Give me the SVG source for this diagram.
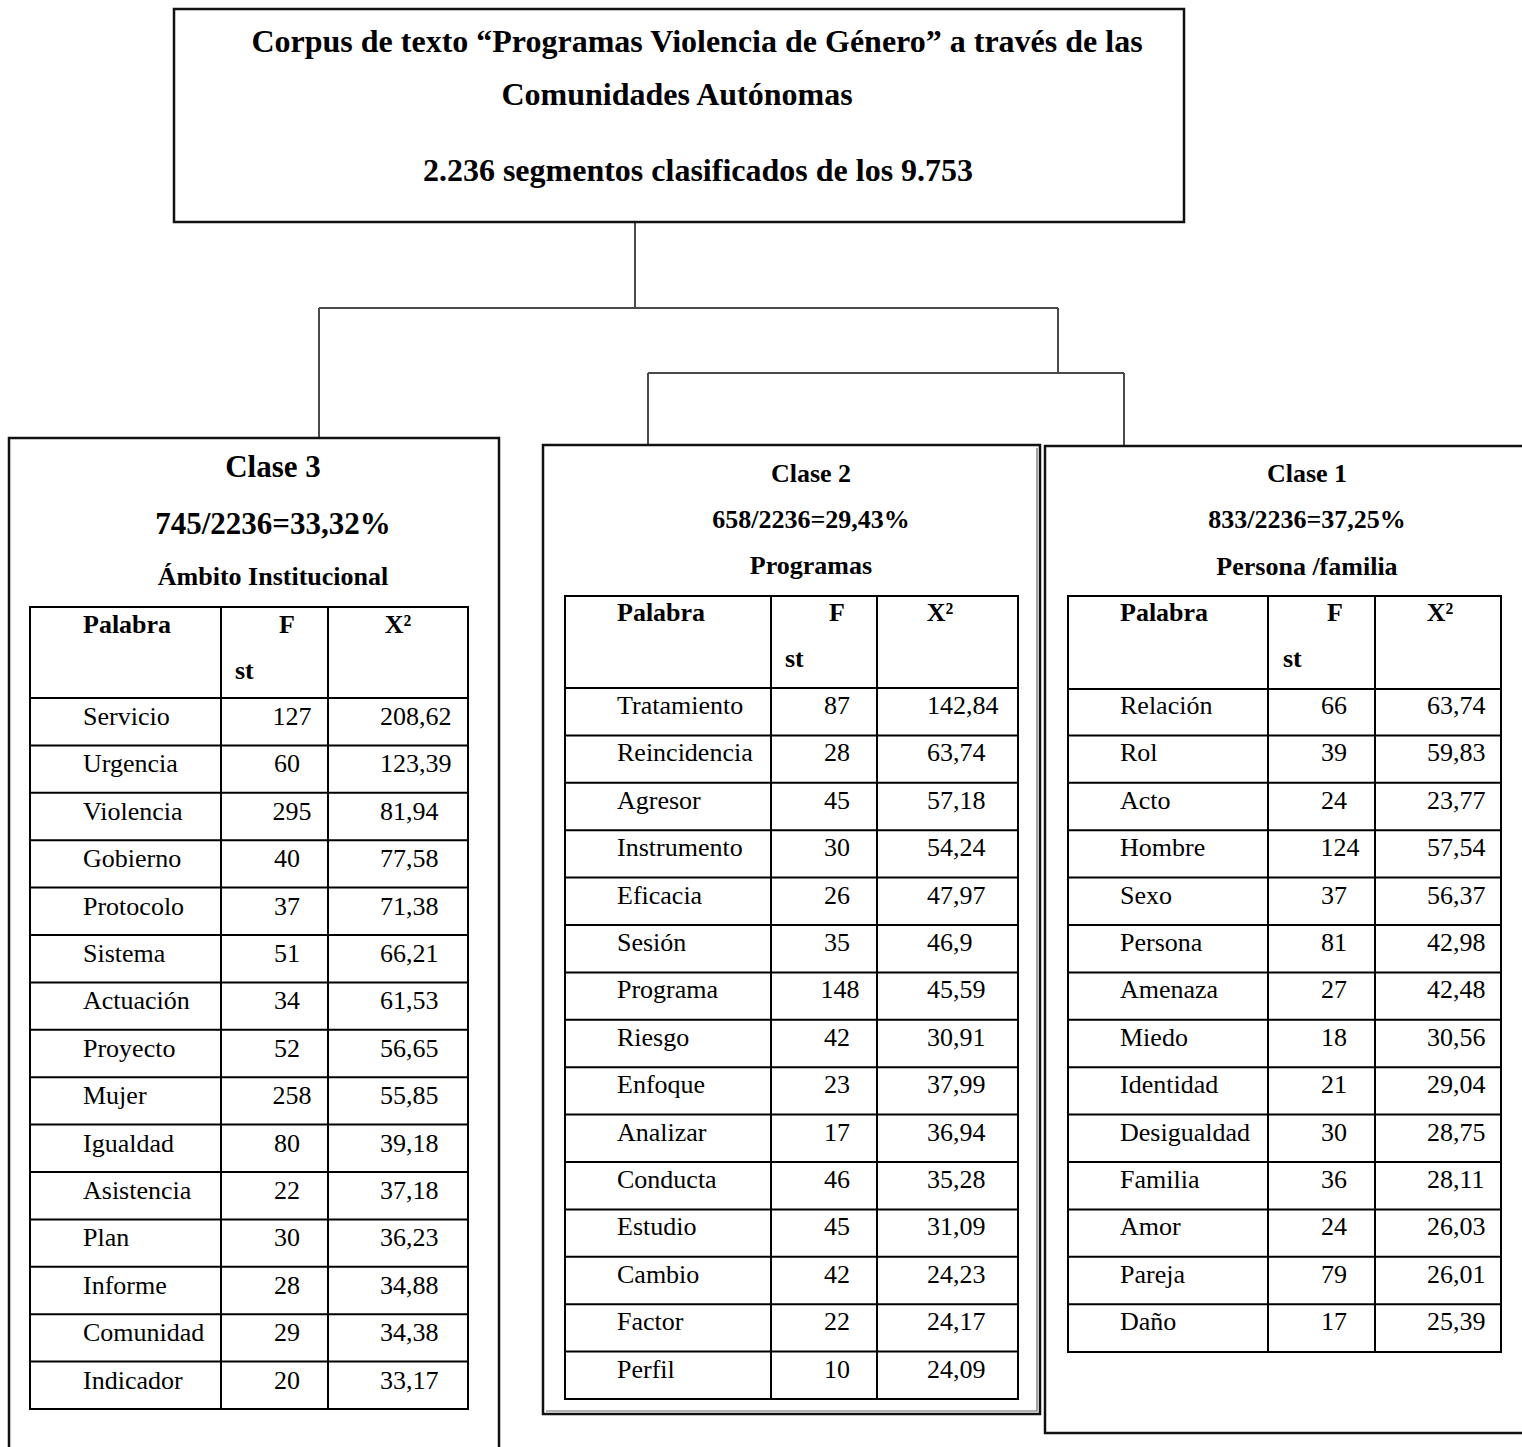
<svg xmlns="http://www.w3.org/2000/svg" width="1522" height="1447" viewBox="0 0 1522 1447">
<style>
text{font-family:"Liberation Serif","Times New Roman",serif;fill:#000}
.t{font-size:32px;font-weight:bold;text-anchor:middle}
.h{font-size:26px;font-weight:bold;text-anchor:middle}
.hb{font-size:31px;font-weight:bold;text-anchor:middle}
.th{font-size:26px;font-weight:bold}
.c{font-size:26px}
.m{text-anchor:middle}
.box{fill:#fff;stroke:#111;stroke-width:2.5}
.tb{fill:none;stroke:#000;stroke-width:2}
.con{fill:none;stroke:#4a4a4a;stroke-width:2}
</style>
<rect width="1522" height="1447" fill="#fff"/>
<g id="connectors">
<path class="con" d="M635 223V308M319 308H1058M319 308V438M1058 308V373M648 373H1124M648 373V445M1124 373V446"/>
</g>
<g id="root">
<rect class="box" x="174" y="9" width="1010" height="213"/>
<text class="t" x="697" y="52">Corpus de texto “Programas Violencia de Género” a través de las</text>
<text class="t" x="677" y="105">Comunidades Autónomas</text>
<text class="t" x="698" y="181">2.236 segmentos clasificados de los 9.753</text>
</g>
<g id="clase3">
<rect class="box" x="9" y="438" width="490" height="1020"/>
<text class="hb" x="273" y="477">Clase 3</text>
<text class="hb" x="273" y="534">745/2236=33,32%</text>
<text class="h" x="273" y="585">Ámbito Institucional</text>
<rect class="tb" x="30" y="607" width="438" height="802"/>
<path class="tb" d="M221 607V1409M328 607V1409M30 698H468M30 745.4H468M30 792.8H468M30 840.2H468M30 887.6H468M30 935H468M30 982.4H468M30 1029.8H468M30 1077.2H468M30 1124.6H468M30 1172H468M30 1219.4H468M30 1266.8H468M30 1314.2H468M30 1361.6H468"/>
<text class="th" x="83" y="633">Palabra</text>
<text class="th m" x="287" y="633">F</text>
<text class="th" x="235" y="679">st</text>
<text class="th m" x="398" y="633">X²</text>
<g class="c">
<text x="83" y="725">Servicio</text><text class="m" x="292" y="725">127</text><text x="380" y="725">208,62</text>
<text x="83" y="772.4">Urgencia</text><text class="m" x="287" y="772.4">60</text><text x="380" y="772.4">123,39</text>
<text x="83" y="819.8">Violencia</text><text class="m" x="292" y="819.8">295</text><text x="380" y="819.8">81,94</text>
<text x="83" y="867.2">Gobierno</text><text class="m" x="287" y="867.2">40</text><text x="380" y="867.2">77,58</text>
<text x="83" y="914.6">Protocolo</text><text class="m" x="287" y="914.6">37</text><text x="380" y="914.6">71,38</text>
<text x="83" y="962">Sistema</text><text class="m" x="287" y="962">51</text><text x="380" y="962">66,21</text>
<text x="83" y="1009.4">Actuación</text><text class="m" x="287" y="1009.4">34</text><text x="380" y="1009.4">61,53</text>
<text x="83" y="1056.8">Proyecto</text><text class="m" x="287" y="1056.8">52</text><text x="380" y="1056.8">56,65</text>
<text x="83" y="1104.2">Mujer</text><text class="m" x="292" y="1104.2">258</text><text x="380" y="1104.2">55,85</text>
<text x="83" y="1151.6">Igualdad</text><text class="m" x="287" y="1151.6">80</text><text x="380" y="1151.6">39,18</text>
<text x="83" y="1199">Asistencia</text><text class="m" x="287" y="1199">22</text><text x="380" y="1199">37,18</text>
<text x="83" y="1246.4">Plan</text><text class="m" x="287" y="1246.4">30</text><text x="380" y="1246.4">36,23</text>
<text x="83" y="1293.8">Informe</text><text class="m" x="287" y="1293.8">28</text><text x="380" y="1293.8">34,88</text>
<text x="83" y="1341.2">Comunidad</text><text class="m" x="287" y="1341.2">29</text><text x="380" y="1341.2">34,38</text>
<text x="83" y="1388.6">Indicador</text><text class="m" x="287" y="1388.6">20</text><text x="380" y="1388.6">33,17</text>
</g>
</g>
<g id="clase2">
<rect class="box" x="543" y="445" width="497" height="969"/>
<path fill="none" stroke="#666" stroke-width="1.2" d="M1037 448V1411H546"/>
<text class="h" x="811" y="482">Clase 2</text>
<text class="h" x="811" y="528">658/2236=29,43%</text>
<text class="h" x="811" y="574">Programas</text>
<rect class="tb" x="565" y="596" width="453" height="803"/>
<path class="tb" d="M771 596V1399M877 596V1399M565 688H1018M565 735.4H1018M565 782.8H1018M565 830.2H1018M565 877.6H1018M565 925H1018M565 972.4H1018M565 1019.8H1018M565 1067.2H1018M565 1114.6H1018M565 1162H1018M565 1209.4H1018M565 1256.8H1018M565 1304.2H1018M565 1351.6H1018"/>
<text class="th" x="617" y="621">Palabra</text>
<text class="th m" x="837" y="621">F</text>
<text class="th" x="785" y="667">st</text>
<text class="th m" x="940" y="621">X²</text>
<g class="c">
<text x="617" y="714">Tratamiento</text><text class="m" x="837" y="714">87</text><text x="927" y="714">142,84</text>
<text x="617" y="761.4">Reincidencia</text><text class="m" x="837" y="761.4">28</text><text x="927" y="761.4">63,74</text>
<text x="617" y="808.8">Agresor</text><text class="m" x="837" y="808.8">45</text><text x="927" y="808.8">57,18</text>
<text x="617" y="856.2">Instrumento</text><text class="m" x="837" y="856.2">30</text><text x="927" y="856.2">54,24</text>
<text x="617" y="903.6">Eficacia</text><text class="m" x="837" y="903.6">26</text><text x="927" y="903.6">47,97</text>
<text x="617" y="951">Sesión</text><text class="m" x="837" y="951">35</text><text x="927" y="951">46,9</text>
<text x="617" y="998.4">Programa</text><text class="m" x="840" y="998.4">148</text><text x="927" y="998.4">45,59</text>
<text x="617" y="1045.8">Riesgo</text><text class="m" x="837" y="1045.8">42</text><text x="927" y="1045.8">30,91</text>
<text x="617" y="1093.2">Enfoque</text><text class="m" x="837" y="1093.2">23</text><text x="927" y="1093.2">37,99</text>
<text x="617" y="1140.6">Analizar</text><text class="m" x="837" y="1140.6">17</text><text x="927" y="1140.6">36,94</text>
<text x="617" y="1188">Conducta</text><text class="m" x="837" y="1188">46</text><text x="927" y="1188">35,28</text>
<text x="617" y="1235.4">Estudio</text><text class="m" x="837" y="1235.4">45</text><text x="927" y="1235.4">31,09</text>
<text x="617" y="1282.8">Cambio</text><text class="m" x="837" y="1282.8">42</text><text x="927" y="1282.8">24,23</text>
<text x="617" y="1330.2">Factor</text><text class="m" x="837" y="1330.2">22</text><text x="927" y="1330.2">24,17</text>
<text x="617" y="1377.6">Perfil</text><text class="m" x="837" y="1377.6">10</text><text x="927" y="1377.6">24,09</text>
</g>
</g>
<g id="clase1">
<rect class="box" x="1045" y="446" width="500" height="987"/>
<text class="h" x="1307" y="482">Clase 1</text>
<text class="h" x="1307" y="528">833/2236=37,25%</text>
<text class="h" x="1307" y="575">Persona /familia</text>
<rect class="tb" x="1068" y="596" width="433" height="756"/>
<path class="tb" d="M1268 596V1352M1375 596V1352M1068 689H1501M1068 735.4H1501M1068 782.8H1501M1068 830.2H1501M1068 877.6H1501M1068 925H1501M1068 972.4H1501M1068 1019.8H1501M1068 1067.2H1501M1068 1114.6H1501M1068 1162H1501M1068 1209.4H1501M1068 1256.8H1501M1068 1304.2H1501"/>
<text class="th" x="1120" y="621">Palabra</text>
<text class="th m" x="1335" y="621">F</text>
<text class="th" x="1283" y="667">st</text>
<text class="th m" x="1440" y="621">X²</text>
<g class="c">
<text x="1120" y="714">Relación</text><text class="m" x="1334" y="714">66</text><text x="1427" y="714">63,74</text>
<text x="1120" y="761.4">Rol</text><text class="m" x="1334" y="761.4">39</text><text x="1427" y="761.4">59,83</text>
<text x="1120" y="808.8">Acto</text><text class="m" x="1334" y="808.8">24</text><text x="1427" y="808.8">23,77</text>
<text x="1120" y="856.2">Hombre</text><text class="m" x="1340" y="856.2">124</text><text x="1427" y="856.2">57,54</text>
<text x="1120" y="903.6">Sexo</text><text class="m" x="1334" y="903.6">37</text><text x="1427" y="903.6">56,37</text>
<text x="1120" y="951">Persona</text><text class="m" x="1334" y="951">81</text><text x="1427" y="951">42,98</text>
<text x="1120" y="998.4">Amenaza</text><text class="m" x="1334" y="998.4">27</text><text x="1427" y="998.4">42,48</text>
<text x="1120" y="1045.8">Miedo</text><text class="m" x="1334" y="1045.8">18</text><text x="1427" y="1045.8">30,56</text>
<text x="1120" y="1093.2">Identidad</text><text class="m" x="1334" y="1093.2">21</text><text x="1427" y="1093.2">29,04</text>
<text x="1120" y="1140.6">Desigualdad</text><text class="m" x="1334" y="1140.6">30</text><text x="1427" y="1140.6">28,75</text>
<text x="1120" y="1188">Familia</text><text class="m" x="1334" y="1188">36</text><text x="1427" y="1188">28,11</text>
<text x="1120" y="1235.4">Amor</text><text class="m" x="1334" y="1235.4">24</text><text x="1427" y="1235.4">26,03</text>
<text x="1120" y="1282.8">Pareja</text><text class="m" x="1334" y="1282.8">79</text><text x="1427" y="1282.8">26,01</text>
<text x="1120" y="1330.2">Daño</text><text class="m" x="1334" y="1330.2">17</text><text x="1427" y="1330.2">25,39</text>
</g>
</g>
</svg>
